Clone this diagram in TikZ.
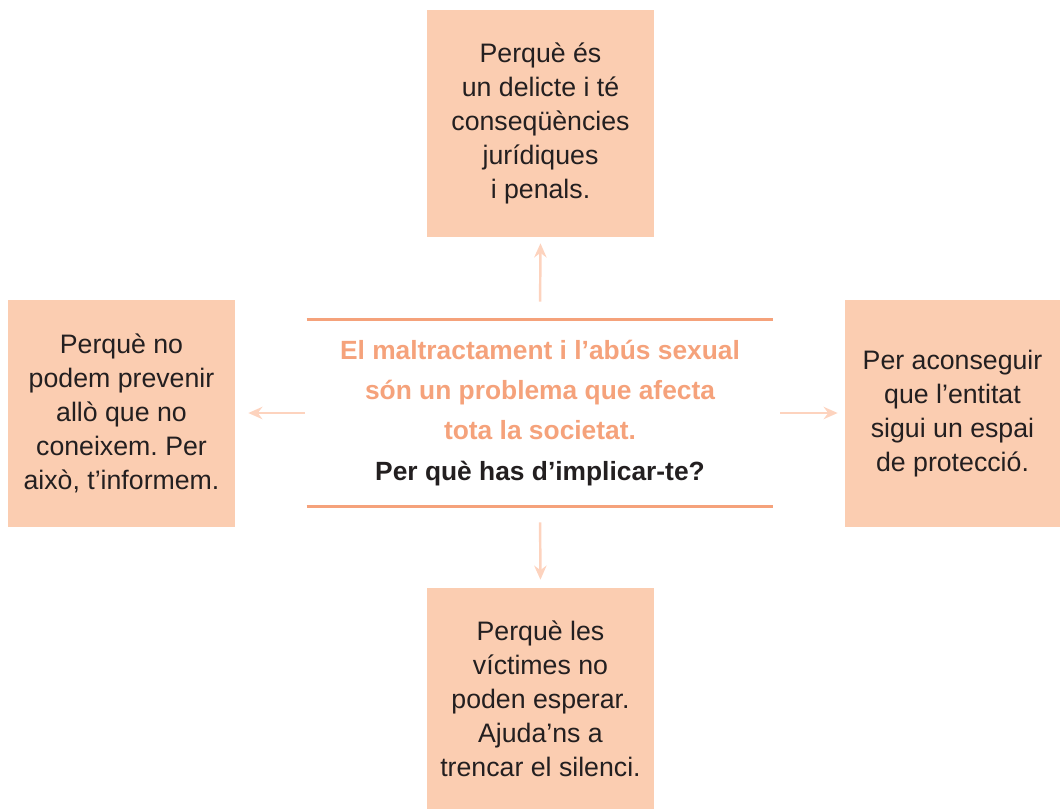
\documentclass[tikz,border=0pt]{standalone}
\usepackage{fontspec}
\setmainfont{Liberation Sans}
\usetikzlibrary{arrows.meta}
\frenchspacing

\definecolor{peach}{HTML}{FBCDB1}
\definecolor{salmon}{HTML}{F5A27B}
\definecolor{pale}{HTML}{FDD3BE}
\definecolor{ink}{HTML}{231F20}

\begin{document}
\begin{tikzpicture}[x=0.02cm,y=-0.02cm,
    box/.style={fill=peach,draw=none,inner sep=0pt,minimum width=4.54cm,minimum height=4.54cm,
      align=center,text=ink,font=\fontsize{15.2}{19.4}\selectfont},
    rule/.style={salmon,line width=1.6pt},
    link/.style={pale,line width=1.4pt,-{Stealth[length=8pt,width=7pt]}}]

    \useasboundingbox (0,0) rectangle (1060,809);

    % the four answers
    \node[box] (top) at (540.5,123.5) {Perquè és\\un delicte i té\\conseqüències\\jurídiques\\i penals.};
    \node[box] (left) at (121.5,413.5) {Perquè no\\podem prevenir\\allò que no\\coneixem. Per\\això, t’informem.};
    \node[box,minimum width=4.3cm] (right) at (952.5,413.5) {Per aconseguir\\que l’entitat\\sigui un espai\\de protecció.};
    \node[box,minimum height=4.42cm] (bottom) at (540.5,698.5) {Perquè les\\víctimes no\\poden esperar.\\Ajuda’ns a\\trencar el silenci.};

    % the question in the middle
    \node[minimum width=9.32cm,minimum height=3.72cm,inner sep=0pt,align=center,
      font=\fontsize{15}{22.8}\selectfont\bfseries] (msg) at (540,413)
      {\textcolor{salmon}{El maltractament i l’abús sexual}\\
       \textcolor{salmon}{són un problema que afecta}\\
       \textcolor{salmon}{tota la societat.}\\
       \textcolor{ink}{Per què has d’implicar-te?}};
    \draw[rule] (msg.north west) -- (msg.north east);
    \draw[rule] (msg.south west) -- (msg.south east);

    \draw[link,shorten <=0.36cm,shorten >=0.12cm] (msg.north) -- (top.south);
    \draw[link,shorten <=0.32cm,shorten >=0.16cm] (msg.south) -- (bottom.north);
    \draw[link,shorten <=0.04cm,shorten >=0.26cm] (msg.west) -- (left.east |- msg.west);
    \draw[link,shorten <=0.14cm,shorten >=0.14cm] (msg.east) -- (right.west |- msg.east);

\end{tikzpicture}
\end{document}
